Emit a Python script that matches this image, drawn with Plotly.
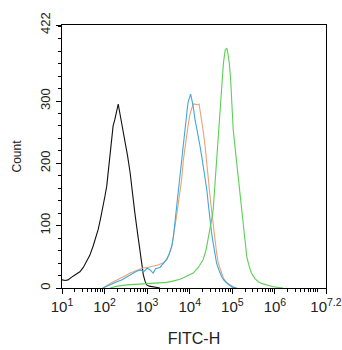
import numpy as np
import plotly.graph_objects as go

# log10(FITC-H) positions and counts
black_log = [1.0, 1.08, 1.14, 1.19, 1.26, 1.33, 1.42, 1.50, 1.58, 1.65, 1.73, 1.79, 1.85, 1.91, 1.97, 2.01, 2.05,
             2.09, 2.13, 2.17, 2.20, 2.24, 2.28, 2.32, 2.36, 2.40, 2.44, 2.48, 2.54, 2.60, 2.65, 2.71, 2.77, 2.83,
             2.87, 2.91, 2.95, 2.99, 3.05, 3.11, 3.2, 3.3]
black_cnt = [13, 12, 13, 16, 19, 22, 26, 33, 42, 52, 67, 80, 94, 113, 131, 148, 163,
             188, 212, 238, 260, 270, 285, 295, 280, 266, 252, 239, 212, 185, 152, 121, 90, 61,
             40, 21, 11, 5, 3, 2, 1, 0]

blue_log = [1.96, 2.05, 2.15, 2.29, 2.4, 2.5, 2.6, 2.67, 2.75, 2.85, 2.92, 3.0, 3.07, 3.14, 3.2, 3.3, 3.38, 3.46,
            3.52, 3.58, 3.62, 3.65, 3.69, 3.73, 3.77, 3.81, 3.85, 3.89, 3.93, 3.96, 3.99, 4.02, 4.05, 4.08, 4.12,
            4.16, 4.20, 4.24, 4.28, 4.32, 4.36, 4.40, 4.44, 4.47, 4.51, 4.55, 4.59, 4.63, 4.69, 4.75, 4.81, 4.87,
            4.94, 5.01, 5.1]
blue_cnt = [0, 3, 6, 10, 13, 17, 21, 24, 27, 29, 26, 32, 29, 24, 31, 33, 40, 46,
            55, 67, 85, 105, 125, 147, 175, 201, 228, 255, 280, 298, 306, 311, 302, 292, 272,
            255, 242, 228, 212, 196, 178, 158, 132, 110, 90, 72, 55, 40, 28, 18, 12, 8,
            4, 1, 0]

orange_log = [1.96, 2.05, 2.15, 2.29, 2.4, 2.5, 2.6, 2.7, 2.8, 2.9, 3.0, 3.07, 3.15, 3.25, 3.37, 3.46, 3.52, 3.58,
              3.62, 3.66, 3.70, 3.74, 3.78, 3.81, 3.85, 3.89, 3.93, 3.97, 4.01, 4.04, 4.08, 4.12, 4.17, 4.22, 4.25,
              4.28, 4.32, 4.36, 4.40, 4.43, 4.47, 4.51, 4.55, 4.59, 4.63, 4.67, 4.73, 4.79, 4.86, 4.94, 5.02, 5.10]
orange_cnt = [0, 4, 8, 13, 16, 20, 24, 27, 30, 32, 33, 34, 35, 37, 40, 46, 55, 68,
              84, 100, 120, 140, 158, 174, 205, 228, 244, 265, 280, 287, 295, 295, 294, 295, 283,
              271, 250, 228, 204, 180, 152, 126, 100, 77, 57, 40, 26, 16, 9, 5, 2, 0]

green_log = [2.13, 2.3, 2.53, 2.75, 3.0, 3.2, 3.46, 3.6, 3.77, 3.9, 4.0, 4.08, 4.2, 4.31, 4.38, 4.43, 4.47, 4.51,
             4.55, 4.60, 4.64, 4.67, 4.71, 4.75, 4.79, 4.83, 4.87, 4.90, 4.93, 4.96, 4.98, 5.00, 5.02, 5.06, 5.10,
             5.14, 5.18, 5.22, 5.26, 5.30, 5.34, 5.40, 5.45, 5.53, 5.61, 5.70, 5.81, 5.88, 5.96, 6.19]
green_cnt = [0, 3, 5, 6, 8, 8, 9, 11, 14, 18, 21, 24, 33, 45, 60, 77, 94, 108,
             125, 174, 215, 250, 290, 325, 360, 381, 385, 375, 360, 335, 309, 280, 255, 228, 201,
             174, 147, 120, 94, 70, 50, 34, 24, 15, 10, 7, 5, 3, 2, 0]

x_tick_exp = [1, 2, 3, 4, 5, 6, 7.2]
x_tick_text = ["10<sup>1</sup>", "10<sup>2</sup>", "10<sup>3</sup>", "10<sup>4</sup>",
               "10<sup>5</sup>", "10<sup>6</sup>", "10<sup>7.2</sup>"]
y_tick_vals = [0, 100, 200, 300, 422]
y_tick_text = ["0", "100", "200", "300", "422"]

series = [
    (black_log, black_cnt, "#111111"),
    (orange_log, orange_cnt, "#e8a377"),
    (blue_log, blue_cnt, "#3fa7dc"),
    (green_log, green_cnt, "#5cd054"),
]

fig = go.Figure()
for lg, cnt, col in series:
    fig.add_trace(go.Scatter(x=10 ** np.array(lg), y=cnt, mode="lines",
                             line=dict(color=col, width=1.1), showlegend=False,
                             hoverinfo="skip"))

font_family = "Liberation Sans, Arial, sans-serif"
fig.update_layout(
    width=342, height=350,
    margin=dict(l=62, r=16, t=25, b=62, autoexpand=False),
    paper_bgcolor="white", plot_bgcolor="white",
    font=dict(family=font_family, color="#222222"),
)
fig.update_xaxes(
    type="log", range=[1, 7.2], automargin=False,
    tickmode="array", tickvals=[10 ** e for e in x_tick_exp], ticktext=x_tick_text,
    ticks="outside", ticklen=5, tickcolor="black", tickwidth=1,
    tickfont=dict(size=15, family=font_family, color="#222222"),
    showline=True, linecolor="black", linewidth=1.3, mirror=True,
    showgrid=False, zeroline=False,
    minor=dict(ticks="outside", ticklen=3, tickcolor="black", dtick="D1", showgrid=False),
    title=dict(text="FITC-H", font=dict(size=16, family=font_family, color="#222222"), standoff=18),
)
fig.update_yaxes(
    range=[0, 422], automargin=False,
    tickmode="array", tickvals=y_tick_vals, ticktext=y_tick_text, tickangle=-90,
    ticks="outside", ticklen=5, tickcolor="black", tickwidth=1, ticklabelstandoff=1,
    tickfont=dict(size=13, family=font_family, color="#222222"),
    showline=True, linecolor="black", linewidth=1.3, mirror=True,
    showgrid=False, zeroline=False,
    minor=dict(ticks="outside", ticklen=3, tickcolor="black", tickmode="linear", tick0=0, dtick=20, showgrid=False),
    title=dict(text="Count", font=dict(size=12, family=font_family, color="#222222"), standoff=13),
)

fig.write_html("out.html", config={"displayModeBar": False},
               post_script="document.body.style.margin='0';")
